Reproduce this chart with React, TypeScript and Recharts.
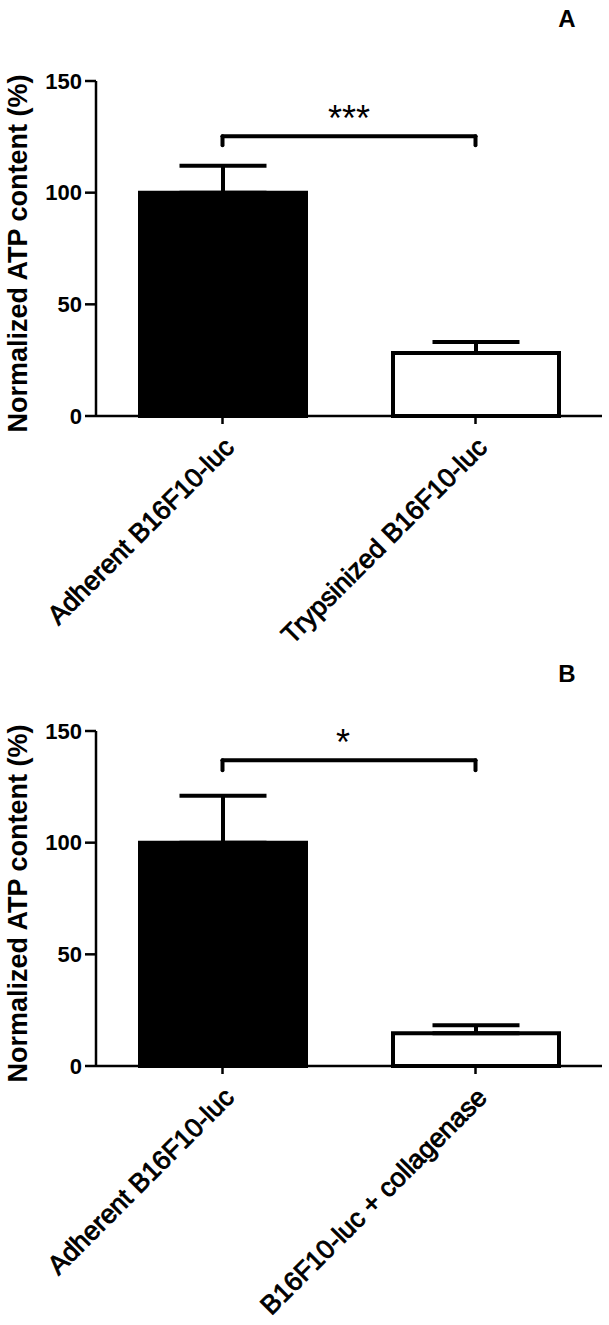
import { BarChart, Bar, XAxis, YAxis, ErrorBar, Cell, ReferenceLine } from 'recharts';

const FONT = '"Liberation Sans", Arial, Helvetica, sans-serif';

// panel A
const categoriesA = ['Adherent B16F10-luc', 'Trypsinized B16F10-luc'];
const meansA = [100, 28.2];
const semA = [12, 4.9];
const bracketA = { top: 125.3, end: 121.2, stars: '***' };

// panel B
const categoriesB = ['Adherent B16F10-luc', 'B16F10-luc + collagenase'];
const meansB = [100, 14.7];
const semB = [21, 3.6];
const bracketB = { top: 136.9, end: 132.4, stars: '*' };

const yTicks = [0, 50, 100, 150];
const barFills = ['#000000', '#ffffff'];

const CategoryTick = (props: any) => {
  const { x, y, payload } = props;
  return (
    <g transform={`translate(${x + 13},${y + 23}) rotate(-45)`}>
      <text
        x={0}
        y={0}
        textAnchor="end"
        fontFamily={FONT}
        fontSize={26.5}
        fill="#000"
        stroke="#000"
        strokeWidth={0.9}
      >
        {payload.value}
      </text>
    </g>
  );
};

const yLabel = (props: any) => {
  const { viewBox } = props;
  const cy = viewBox.y + viewBox.height / 2 + 5;
  return (
    <text
      x={27}
      y={cy}
      transform={`rotate(-90 27 ${cy})`}
      textAnchor="middle"
      fontFamily={FONT}
      fontSize={27}
      fontWeight="bold"
      fill="#000"
    >
      Normalized ATP content (%)
    </text>
  );
};

interface PanelProps {
  categories: string[];
  means: number[];
  sem: number[];
  bracket: { top: number; end: number; stars: string };
  height: number;
  top: number;
  xAxisHeight: number;
  starDx: number;
}

function Panel({ categories, means, sem, bracket, height, top, xAxisHeight, starDx }: PanelProps) {
  const data = categories.map((name, i) => ({ name, value: means[i], err: [0, sem[i]] }));
  const [c1, c2] = categories;
  return (
    <BarChart width={609} height={height} data={data} margin={{ top, right: 7, bottom: 0, left: 0 }}>
      <XAxis
        dataKey="name"
        interval={0}
        height={xAxisHeight}
        tickSize={8}
        axisLine={{ stroke: '#000', strokeWidth: 2.5 }}
        tickLine={{ stroke: '#000', strokeWidth: 2.5 }}
        tick={<CategoryTick />}
      />
      <YAxis
        width={96}
        domain={[0, 150]}
        ticks={yTicks}
        interval={0}
        tickSize={11}
        tickMargin={3}
        axisLine={{ stroke: '#000', strokeWidth: 2.5 }}
        tickLine={{ stroke: '#000', strokeWidth: 2.5 }}
        tick={{ fill: '#000', fontSize: 22, fontWeight: 'bold', fontFamily: FONT }}
        label={yLabel}
      />
      <Bar dataKey="value" barSize={166} stroke="#000" strokeWidth={4} isAnimationActive={false}>
        {data.map((d, i) => (
          <Cell key={d.name} fill={barFills[i]} />
        ))}
        <ErrorBar dataKey="err" direction="y" width={43.5} stroke="#000" strokeWidth={4} isAnimationActive={false} />
      </Bar>
      <ReferenceLine
        segment={[{ x: c1, y: bracket.top }, { x: c2, y: bracket.top }]}
        stroke="#000"
        strokeWidth={4}
        strokeLinecap="round"
        label={{
          value: bracket.stars,
          position: 'top',
          offset: 5,
          dx: starDx,
          fill: '#000',
          fontSize: 36,
          fontFamily: FONT,
        }}
      />
      <ReferenceLine
        segment={[{ x: c1, y: bracket.top }, { x: c1, y: bracket.end }]}
        stroke="#000"
        strokeWidth={4}
        strokeLinecap="round"
      />
      <ReferenceLine
        segment={[{ x: c2, y: bracket.top }, { x: c2, y: bracket.end }]}
        stroke="#000"
        strokeWidth={4}
        strokeLinecap="round"
      />
    </BarChart>
  );
}

export default function App() {
  return (
    <div style={{ position: 'absolute', left: 0, top: 0, width: 609, height: 1325, background: '#fff' }}>
      <Panel
        categories={categoriesA}
        means={meansA}
        sem={semA}
        bracket={bracketA}
        height={700}
        top={81}
        xAxisHeight={284}
        starDx={0}
      />
      <Panel
        categories={categoriesB}
        means={meansB}
        sem={semB}
        bracket={bracketB}
        height={625}
        top={31}
        xAxisHeight={259}
        starDx={-6}
      />
      <svg width={609} height={1325} style={{ position: 'absolute', left: 0, top: 0, pointerEvents: 'none' }}>
        <text x={567} y={27} textAnchor="middle" fontFamily={FONT} fontSize={24} fontWeight="bold" fill="#000">
          A
        </text>
        <text x={567} y={682} textAnchor="middle" fontFamily={FONT} fontSize={24} fontWeight="bold" fill="#000">
          B
        </text>
      </svg>
    </div>
  );
}
